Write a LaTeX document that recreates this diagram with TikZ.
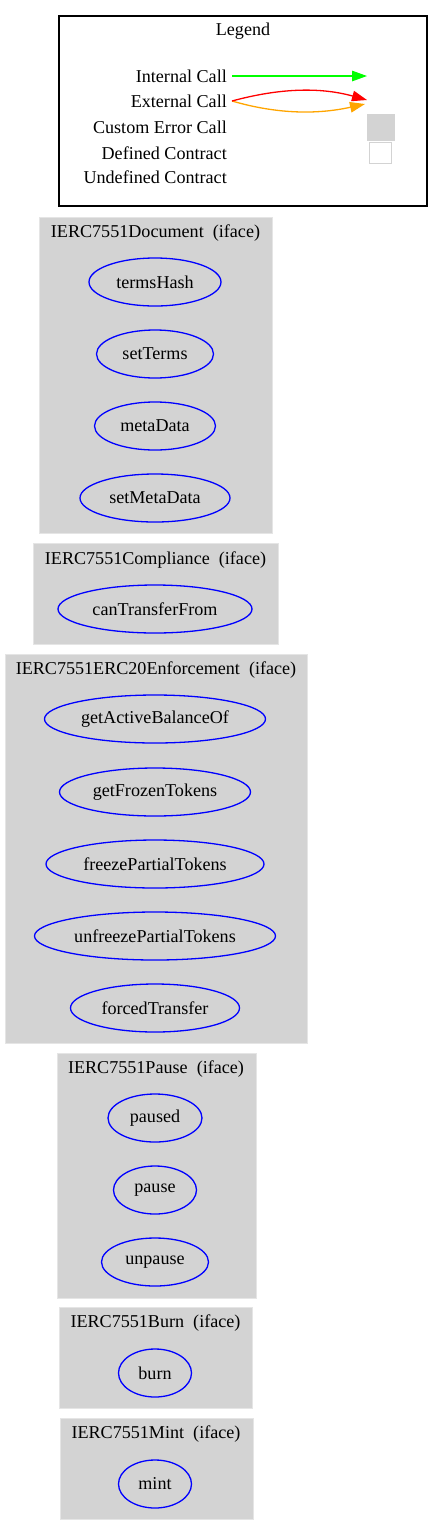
\documentclass[tikz,border=0pt]{standalone}
\usepackage{fontspec}
\setmainfont{Liberation Serif}
\usetikzlibrary{shapes.geometric,arrows.meta}
\definecolor{gvgray}{HTML}{D3D3D3}
\definecolor{gvorange}{HTML}{FFA500}
\definecolor{gvgreen}{HTML}{00FF00}
\definecolor{gvred}{HTML}{FF0000}
\definecolor{gvblue}{HTML}{0000FF}
\begin{document}
\begin{tikzpicture}[x=1pt,y=-1pt,
  font=\fontsize{18.1}{22}\selectfont,
  cluster/.style={rectangle, fill=gvgray, draw=gvgray!60!white, line width=0.8pt, inner sep=0},
  fn/.style={ellipse, draw=gvblue, line width=1.3pt, inner sep=0, minimum height=48},
  ttl/.style={inner sep=0, anchor=center},
  lg/.style={inner sep=0, anchor=east},
  tip/.style={-{Triangle[length=15pt,width=10.5pt]}, line width=1.3pt}
]
\useasboundingbox (0,0) rectangle (443,1535);

% Legend
\node[rectangle, draw=black, line width=1.3pt, minimum width=368, minimum height=190, inner sep=0] (legend) at (243,111) {};
\node[ttl] (legendT) at (243,31) {Legend};
\node[lg] (lInt) at (227,76) {Internal Call};
\node[lg] (lExt) at (227,101) {External Call};
\node[lg] (lErr) at (227,127) {Custom Error Call};
\node[lg] (lDef) at (227,153) {Defined Contract};
\node[lg] (lUnd) at (227,177) {Undefined Contract};
\coordinate (intS) at (232,76);
\coordinate (intE) at (367,76);
\coordinate (extS) at (232,101);
\coordinate (extE) at (367,100);
\coordinate (extE2) at (365,104);
\draw[tip, color=gvgreen] (intS) -- (intE);
\draw[tip, color=gvorange] (extS) .. controls (280,115) and (320,114) .. (extE2);
\draw[tip, color=gvred] (extS) .. controls (280,88) and (320,87) .. (extE);
\node[rectangle, fill=gvgray, draw=gvgray, minimum width=27, minimum height=26, inner sep=0] (errBox) at (380.5,127) {};
\node[rectangle, fill=white, draw=gvgray, line width=1.3pt, minimum width=22, minimum height=21, inner sep=0] (defBox) at (380.5,153) {};

% IERC7551Document
\node[cluster, minimum width=233, minimum height=316] (docC) at (155.5,375) {};
\node[ttl] (docT) at (155.5,233) {IERC7551Document\ \ (iface)};
\node[fn, minimum width=132] (termsHash) at (155,282) {termsHash};
\node[fn, minimum width=117] (setTerms) at (155,354) {setTerms};
\node[fn, minimum width=121] (metaData) at (155,426) {metaData};
\node[fn, minimum width=150] (setMetaData) at (155,498) {setMetaData};

% IERC7551Compliance
\node[cluster, minimum width=245, minimum height=101] (compC) at (155.5,593.5) {};
\node[ttl] (compT) at (155.5,560) {IERC7551Compliance\ \ (iface)};
\node[fn, minimum width=194] (canTransferFrom) at (155,609) {canTransferFrom};

% IERC7551ERC20Enforcement
\node[cluster, minimum width=302, minimum height=389] (enfC) at (156,848.5) {};
\node[ttl] (enfT) at (156,670) {IERC7551ERC20Enforcement\ \ (iface)};
\node[fn, minimum width=221] (getActiveBalanceOf) at (155,719) {getActiveBalanceOf};
\node[fn, minimum width=191] (getFrozenTokens) at (155,792) {getFrozenTokens};
\node[fn, minimum width=218] (freezePartialTokens) at (155,864) {freezePartialTokens};
\node[fn, minimum width=241] (unfreezePartialTokens) at (155,936) {unfreezePartialTokens};
\node[fn, minimum width=169] (forcedTransfer) at (155,1008) {forcedTransfer};

% IERC7551Pause
\node[cluster, minimum width=199, minimum height=245] (pauseC) at (156.5,1175.5) {};
\node[ttl] (pauseT) at (156,1069) {IERC7551Pause\ \ (iface)};
\node[fn, minimum width=94] (paused) at (155,1118) {paused};
\node[fn, minimum width=83] (pause) at (155,1190) {pause};
\node[fn, minimum width=107] (unpause) at (155,1262) {unpause};

% IERC7551Burn
\node[cluster, minimum width=193, minimum height=101] (burnC) at (155.5,1357.5) {};
\node[ttl] (burnT) at (155.5,1323) {IERC7551Burn\ \ (iface)};
\node[fn, minimum width=73] (burn) at (155,1373) {burn};

% IERC7551Mint
\node[cluster, minimum width=193, minimum height=101] (mintC) at (156.5,1468.5) {};
\node[ttl] (mintT) at (156,1434) {IERC7551Mint\ \ (iface)};
\node[fn, minimum width=73] (mint) at (155,1484) {mint};
\end{tikzpicture}
\end{document}
